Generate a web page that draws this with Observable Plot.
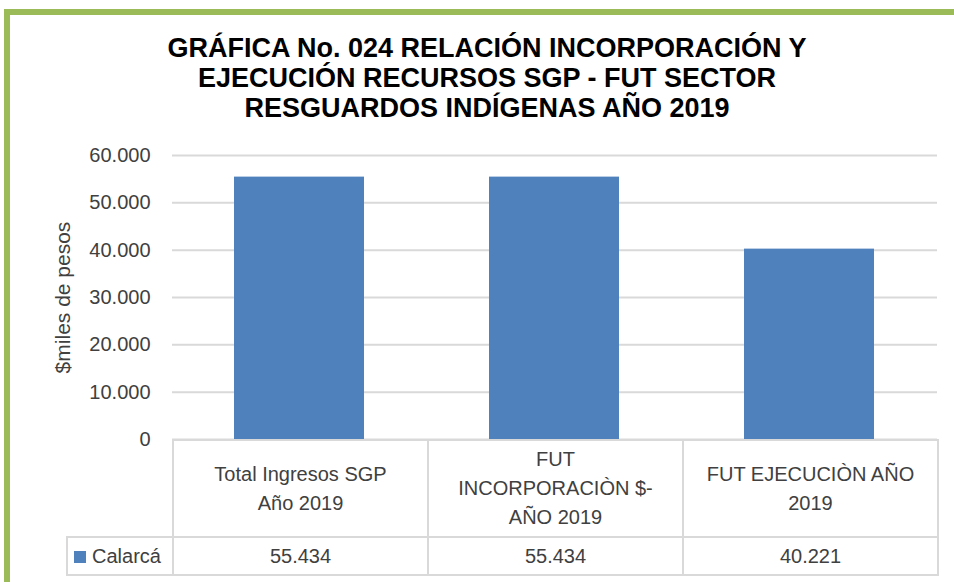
<!DOCTYPE html>
<html>
<head>
<meta charset="utf-8">
<script src="https://cdn.jsdelivr.net/npm/d3@7"></script>
<script src="https://cdn.jsdelivr.net/npm/@observablehq/plot@0.6"></script>
<style>
  html, body { margin: 0; padding: 0; background: #fff; }
  body { width: 954px; height: 582px; overflow: hidden; position: relative; font-family: "Liberation Sans", Arial, sans-serif; }
  #frame { position: absolute; left: 4px; top: 9px; width: 1000px; height: 700px; border: 6px solid #9BBB59; box-sizing: border-box; }
  #title { position: absolute; left: 0; width: 974px; top: 33px; text-align: center; font-family: "Liberation Sans Narrow", "Arial Narrow", "Liberation Sans", sans-serif; font-weight: bold; font-size: 27px; line-height: 30px; color: #000; }
  #chart { position: absolute; left: 0; top: 0; }
  #table { position: absolute; left: 66px; top: 439px; border-collapse: collapse; table-layout: fixed; color: #404040; font-size: 20px; }
  #table td { border: 2px solid #d9d9d9; text-align: center; padding: 0; }
  #table td.blank { border: none; }
</style>
</head>
<body>
<div id="frame"></div>
<div id="title"></div>
<div id="chart"></div>
<table id="table"></table>
<script>
const titleLines = ["GRÁFICA No. 024  RELACIÓN INCORPORACIÓN  Y", "EJECUCIÓN  RECURSOS SGP - FUT SECTOR", "RESGUARDOS INDÍGENAS  AÑO 2019"];
const categories = ["Total Ingresos SGP Año 2019", "FUT INCORPORACIÒN $- AÑO 2019", "FUT EJECUCIÒN AÑO 2019"];
const categoryLines = [["Total Ingresos SGP", "Año 2019"], ["FUT", "INCORPORACIÒN $-", "AÑO 2019"], ["FUT EJECUCIÒN AÑO", "2019"]];
const seriesName = "Calarcá";
const values = [55434, 55434, 40221];
const yTicks = [0, 10000, 20000, 30000, 40000, 50000, 60000];
const yLabel = "$miles de pesos";
const barColor = "#4F81BD";

const locale = d3.formatLocale({decimal: ",", thousands: ".", grouping: [3], currency: ["$", ""]});
const fmt = locale.format(",d");

document.getElementById("title").innerHTML = titleLines.join("<br>");

const data = categories.map((c, i) => ({cat: c, value: values[i]}));

const W = 954, marginLeft = 172, marginRight = 17;
const chart = Plot.plot({
  width: W, height: 450,
  marginLeft, marginRight, marginTop: 155, marginBottom: 11,
  style: {fontFamily: "Liberation Sans, Arial, sans-serif", fontSize: "20px", color: "#404040", background: "transparent"},
  x: {domain: categories, paddingInner: 0.49, paddingOuter: 0.245, axis: null},
  y: {domain: [0, 60000]},
  marks: [
    Plot.gridY(yTicks, {stroke: "#d9d9d9", strokeOpacity: 1, strokeWidth: 2}),
    Plot.axisY(yTicks, {tickSize: 0, tickPadding: 22, tickFormat: fmt, label: null, fontSize: 20}),
    Plot.text([yLabel], {text: d => d, frameAnchor: "left", textAnchor: "middle", rotate: -90, dx: -109, fontSize: 21, fill: "#404040"}),
    Plot.barY(data, {x: "cat", y: "value", fill: barColor})
  ]
});
document.getElementById("chart").appendChild(chart);

// data table
const colW = (W - marginLeft - marginRight) / categories.length;
const table = document.getElementById("table");
const colgroup = document.createElement("colgroup");
[marginLeft - 66, ...categories.map(() => colW)].forEach(w => {
  const col = document.createElement("col"); col.style.width = w + "px"; colgroup.appendChild(col);
});
table.appendChild(colgroup);
const r1 = document.createElement("tr");
r1.style.height = "97px";
const blank = document.createElement("td"); blank.className = "blank"; r1.appendChild(blank);
categoryLines.forEach(lines => {
  const td = document.createElement("td");
  td.style.lineHeight = "29px";
  td.innerHTML = lines.join("<br>");
  r1.appendChild(td);
});
table.appendChild(r1);
const r2 = document.createElement("tr");
r2.style.height = "38px";
const leg = document.createElement("td");
leg.style.textAlign = "left";
leg.style.paddingLeft = "6px";
leg.innerHTML = `<span style="display:inline-block;width:12px;height:12px;background:${barColor};margin-right:6px;vertical-align:0px"></span>${seriesName}`;
r2.appendChild(leg);
values.forEach(v => {
  const td = document.createElement("td");
  td.textContent = fmt(v);
  r2.appendChild(td);
});
table.appendChild(r2);
</script>
</body>
</html>
